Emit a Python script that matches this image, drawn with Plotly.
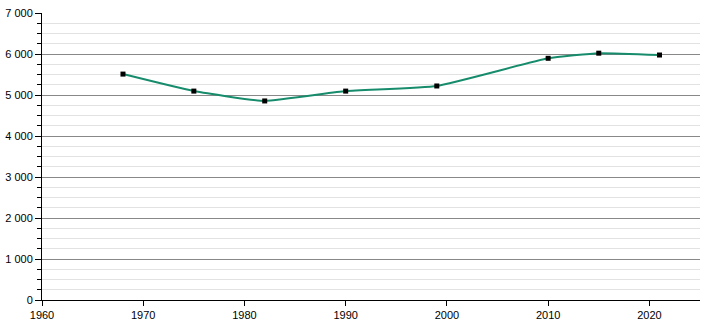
import plotly.graph_objects as go

years = [1968, 1975, 1982, 1990, 1999, 2010, 2015, 2021]
population = [5510, 5095, 4855, 5095, 5220, 5895, 6020, 5975]

fig = go.Figure()
fig.add_trace(go.Scatter(
    x=years, y=population, mode="lines",
    line=dict(color="#178c6c", width=2, shape="spline", smoothing=0.4),
    hoverinfo="skip", showlegend=False))
fig.add_trace(go.Scatter(
    x=years, y=population, mode="markers",
    marker=dict(color="black", size=5, symbol="square"),
    showlegend=False))

fig.update_layout(
    width=710, height=320,
    margin=dict(l=42, r=10, t=13, b=20),
    plot_bgcolor="white", paper_bgcolor="white",
    separators=", ",
    font=dict(family="Liberation Sans, Arial, sans-serif", size=11, color="black"),
)
fig.update_xaxes(
    range=[1960, 2025], tickvals=[1960, 1970, 1980, 1990, 2000, 2010, 2020],
    showgrid=False, showline=True, linecolor="black", linewidth=1,
    ticks="outside", ticklen=5, tickcolor="black", zeroline=False,
    automargin=False,
)
fig.update_yaxes(
    range=[0, 7000], dtick=1000, tickformat=",d",
    showgrid=True, gridcolor="#888888", gridwidth=1,
    minor=dict(dtick=250, showgrid=True, gridcolor="#e2e2e2", ticks="outside", ticklen=4, tickcolor="black"),
    showline=True, linecolor="black", linewidth=1,
    ticks="outside", ticklen=6, tickcolor="black", zeroline=False,
    automargin=False,
)
fig.write_html("out.html")
